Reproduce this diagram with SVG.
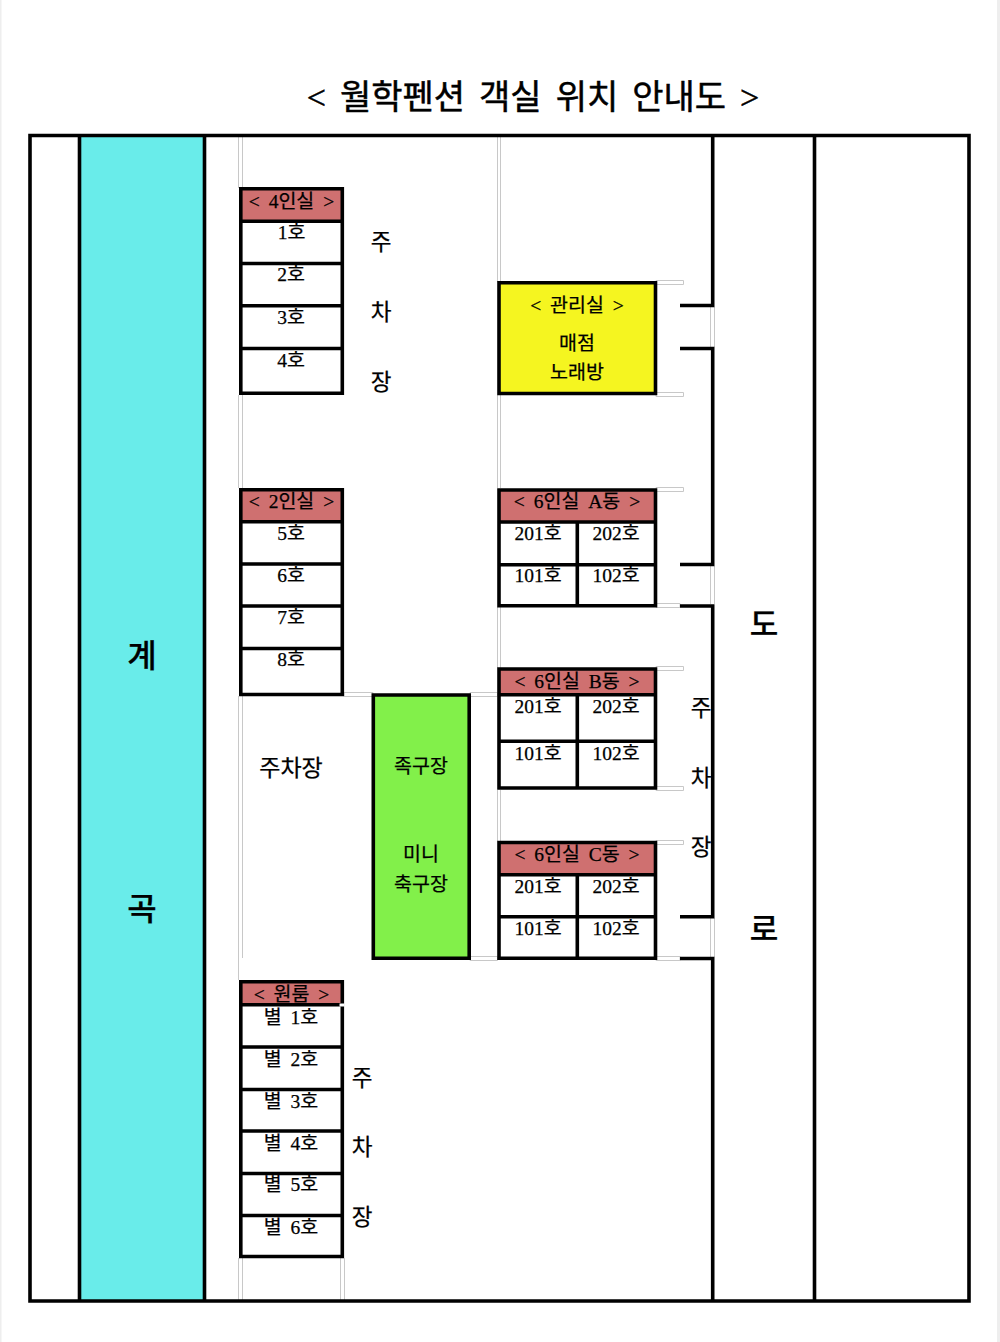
<svg xmlns="http://www.w3.org/2000/svg" width="1000" height="1342" viewBox="0 0 1000 1342">
<style>
text{font-family:"Liberation Serif","Noto Sans CJK KR",serif;fill:#000;text-anchor:middle;stroke:#000;stroke-width:.25px}
.s{font-size:19.500px;word-spacing:4px}
.t{font-size:19.500px;word-spacing:4px}
.m{font-size:22.500px}
.b{font-size:32px;font-weight:500}
.h{font-size:34px;word-spacing:5.500px;stroke-width:.5px}
.k{stroke:#000;stroke-width:3.600;fill:none}
.g{stroke:#c8c8c8;stroke-width:1;fill:none}
.r{fill:#cf7070}
</style>
<rect width="1000" height="1342" fill="#fff"/>
<rect width="1.500" height="1342" fill="#eee"/>
<rect x="997" width="3" height="1342" fill="#eee"/>
<text id="title" x="533" y="109" class="h" xml:space="preserve">&lt; 월학펜션 객실 위치 안내도 &gt;</text>
<g id="connectors">
<path class="g" d="M238.500 136V188M242.500 136V188M238.500 395V488M242.500 395V488M238.500 696V980M242.500 696V958M238.500 1258V1300M242.500 1258V1300M340.500 1258V1300M344.500 1258V1300"/>
<path class="g" d="M497.500 136V282M500.500 136V282M497.500 395V488M500.500 395V488M497.500 607V668M500.500 607V668M497.500 790V841M500.500 790V841M469.500 696V957"/>
<path class="g" d="M656 280.500H683.500V284.500H656ZM656 392.500H683.500V396.500H656ZM656 487.500H683.500V491.500H656ZM656 603.500H680V607.500H656ZM656 666.500H683.500V670.500H656ZM656 786.500H683.500V790.500H656ZM656 840.500H683.500V844.500H656ZM656 956.500H680V960.500H656ZM344 692.500H373V696.500H344ZM470 692.500H497.500V696.500H470ZM470 956.500H497.500V960.500H470Z"/>
<path class="g" d="M710.500 307V347M714.500 307V347M710.500 566V604M714.500 566V604M710.500 918V957M714.500 918V957"/>
</g>
<g id="site">
<rect x="80" y="136" width="124" height="1165" fill="#69ecea"/>
<path class="k" d="M30 135.500H969V1301H30ZM79.500 135V1301M204.500 135V1301M814.500 135V1301"/>
<path class="k" d="M712.700 135V305.500H680M680 348.500H712.700V564.500H680M680 606H712.700V916.700H680M680 958.500H712.700V1301"/>
</g>
<g id="label-gyegok"><text x="142" y="667" class="b">계</text><text x="142" y="920" class="b">곡</text></g>
<g id="label-doro"><text x="764" y="635" class="b" style="font-size:31px">도</text><text x="764" y="940" class="b" style="font-size:31px">로</text></g>
<g id="room4">
<rect x="241" y="189" width="101" height="32" class="r"/>
<path class="k" d="M240.800 188.700H342.300V393.300H240.800ZM240.800 221.300H342.300M240.800 263.500H342.300M240.800 305.700H342.300M240.800 348.500H342.300"/>
<text x="291.500" y="208" class="t" xml:space="preserve">&lt; 4인실 &gt;</text>
<text x="291.500" y="239" class="s">1호</text><text x="291" y="281" class="s">2호</text><text x="291" y="324" class="s">3호</text><text x="291" y="367" class="s">4호</text>
</g>
<g id="parking1"><text x="381" y="250" class="m">주</text><text x="381" y="320" class="m">차</text><text x="381" y="390" class="m">장</text></g>
<g id="office">
<rect x="499" y="282.700" width="156.500" height="110.800" fill="#f5f520"/>
<path class="k" d="M499 282.700H655.500V393.500H499Z"/>
<text x="577" y="312" class="t" xml:space="preserve">&lt; 관리실 &gt;</text><text x="577" y="350" class="t">매점</text><text x="577" y="379" class="t">노래방</text>
</g>
<g id="room2">
<rect x="241" y="490" width="101" height="32" class="r"/>
<path class="k" d="M240.800 489.700H342.300V694.500H240.800ZM240.800 521.700H342.300M240.800 564H342.300M240.800 606H342.300M240.800 648.500H342.300"/>
<text x="291.500" y="508" class="t" xml:space="preserve">&lt; 2인실 &gt;</text>
<text x="291" y="540" class="s">5호</text><text x="291" y="582" class="s">6호</text><text x="291" y="624" class="s">7호</text><text x="291" y="666" class="s">8호</text>
</g>
<g id="blockA">
<rect x="499" y="490" width="156.500" height="32" class="r"/>
<path class="k" d="M499 490H655.500V605.800H499ZM499 522H655.500M499 564.700H655.500M577.300 522V605.800"/>
<text x="577" y="508" class="t" xml:space="preserve">&lt; 6인실 A동 &gt;</text>
<text x="538" y="540" class="s">201호</text><text x="616" y="540" class="s">202호</text><text x="538" y="582" class="s">101호</text><text x="616" y="582" class="s">102호</text>
</g>
<g id="blockB">
<rect x="499" y="669" width="156.500" height="25.700" class="r"/>
<path class="k" d="M499 669H655.500V788H499ZM499 694.700H655.500M499 741.300H655.500M577.300 694.700V788"/>
<text x="577" y="688" class="t" xml:space="preserve">&lt; 6인실 B동 &gt;</text>
<text x="538" y="713" class="s">201호</text><text x="616" y="713" class="s">202호</text><text x="538" y="760" class="s">101호</text><text x="616" y="760" class="s">102호</text>
</g>
<g id="blockC">
<rect x="499" y="842.500" width="156.500" height="32" class="r"/>
<path class="k" d="M499 842.500H655.500V958.300H499ZM499 874.700H655.500M499 916.700H655.500M577.300 874.700V958.300"/>
<text x="577" y="861" class="t" xml:space="preserve">&lt; 6인실 C동 &gt;</text>
<text x="538" y="893" class="s">201호</text><text x="616" y="893" class="s">202호</text><text x="538" y="935" class="s">101호</text><text x="616" y="935" class="s">102호</text>
</g>
<g id="parking2"><text x="291" y="776" style="font-size:23px">주차장</text></g>
<g id="field">
<rect x="373.300" y="695" width="95.900" height="263.300" fill="#82f04a"/>
<path class="k" d="M373.300 695H469.200V958.300H373.300Z"/>
<text x="421" y="773" class="t">족구장</text><text x="421" y="861" class="t">미니</text><text x="421" y="891" class="t">축구장</text>
</g>
<g id="parking3"><text x="701" y="716" class="m">주</text><text x="701" y="786" class="m">차</text><text x="701" y="855" class="m">장</text></g>
<g id="oneroom">
<rect x="241" y="982" width="101" height="22.500" class="r"/>
<path class="k" d="M240.800 981.700H342.300V1256.500H240.800ZM240.800 1004.700H342.300M240.800 1047H342.300M240.800 1089.500H342.300M240.800 1131H342.300M240.800 1173.500H342.300M240.800 1215.500H342.300"/>
<path d="M339.500 1003.500H344.500V1006.500H339.500Z" fill="#fff"/>
<text x="291.500" y="1001" class="t" xml:space="preserve">&lt; 원룸 &gt;</text>
<text x="291" y="1024" class="s" xml:space="preserve">별 1호</text><text x="291" y="1066" class="s" xml:space="preserve">별 2호</text><text x="291" y="1108" class="s" xml:space="preserve">별 3호</text><text x="291" y="1150" class="s" xml:space="preserve">별 4호</text><text x="291" y="1191" class="s" xml:space="preserve">별 5호</text><text x="291" y="1234" class="s" xml:space="preserve">별 6호</text>
</g>
<g id="parking4"><text x="362" y="1086" class="m">주</text><text x="362" y="1155" class="m">차</text><text x="362" y="1225" class="m">장</text></g>
</svg>
